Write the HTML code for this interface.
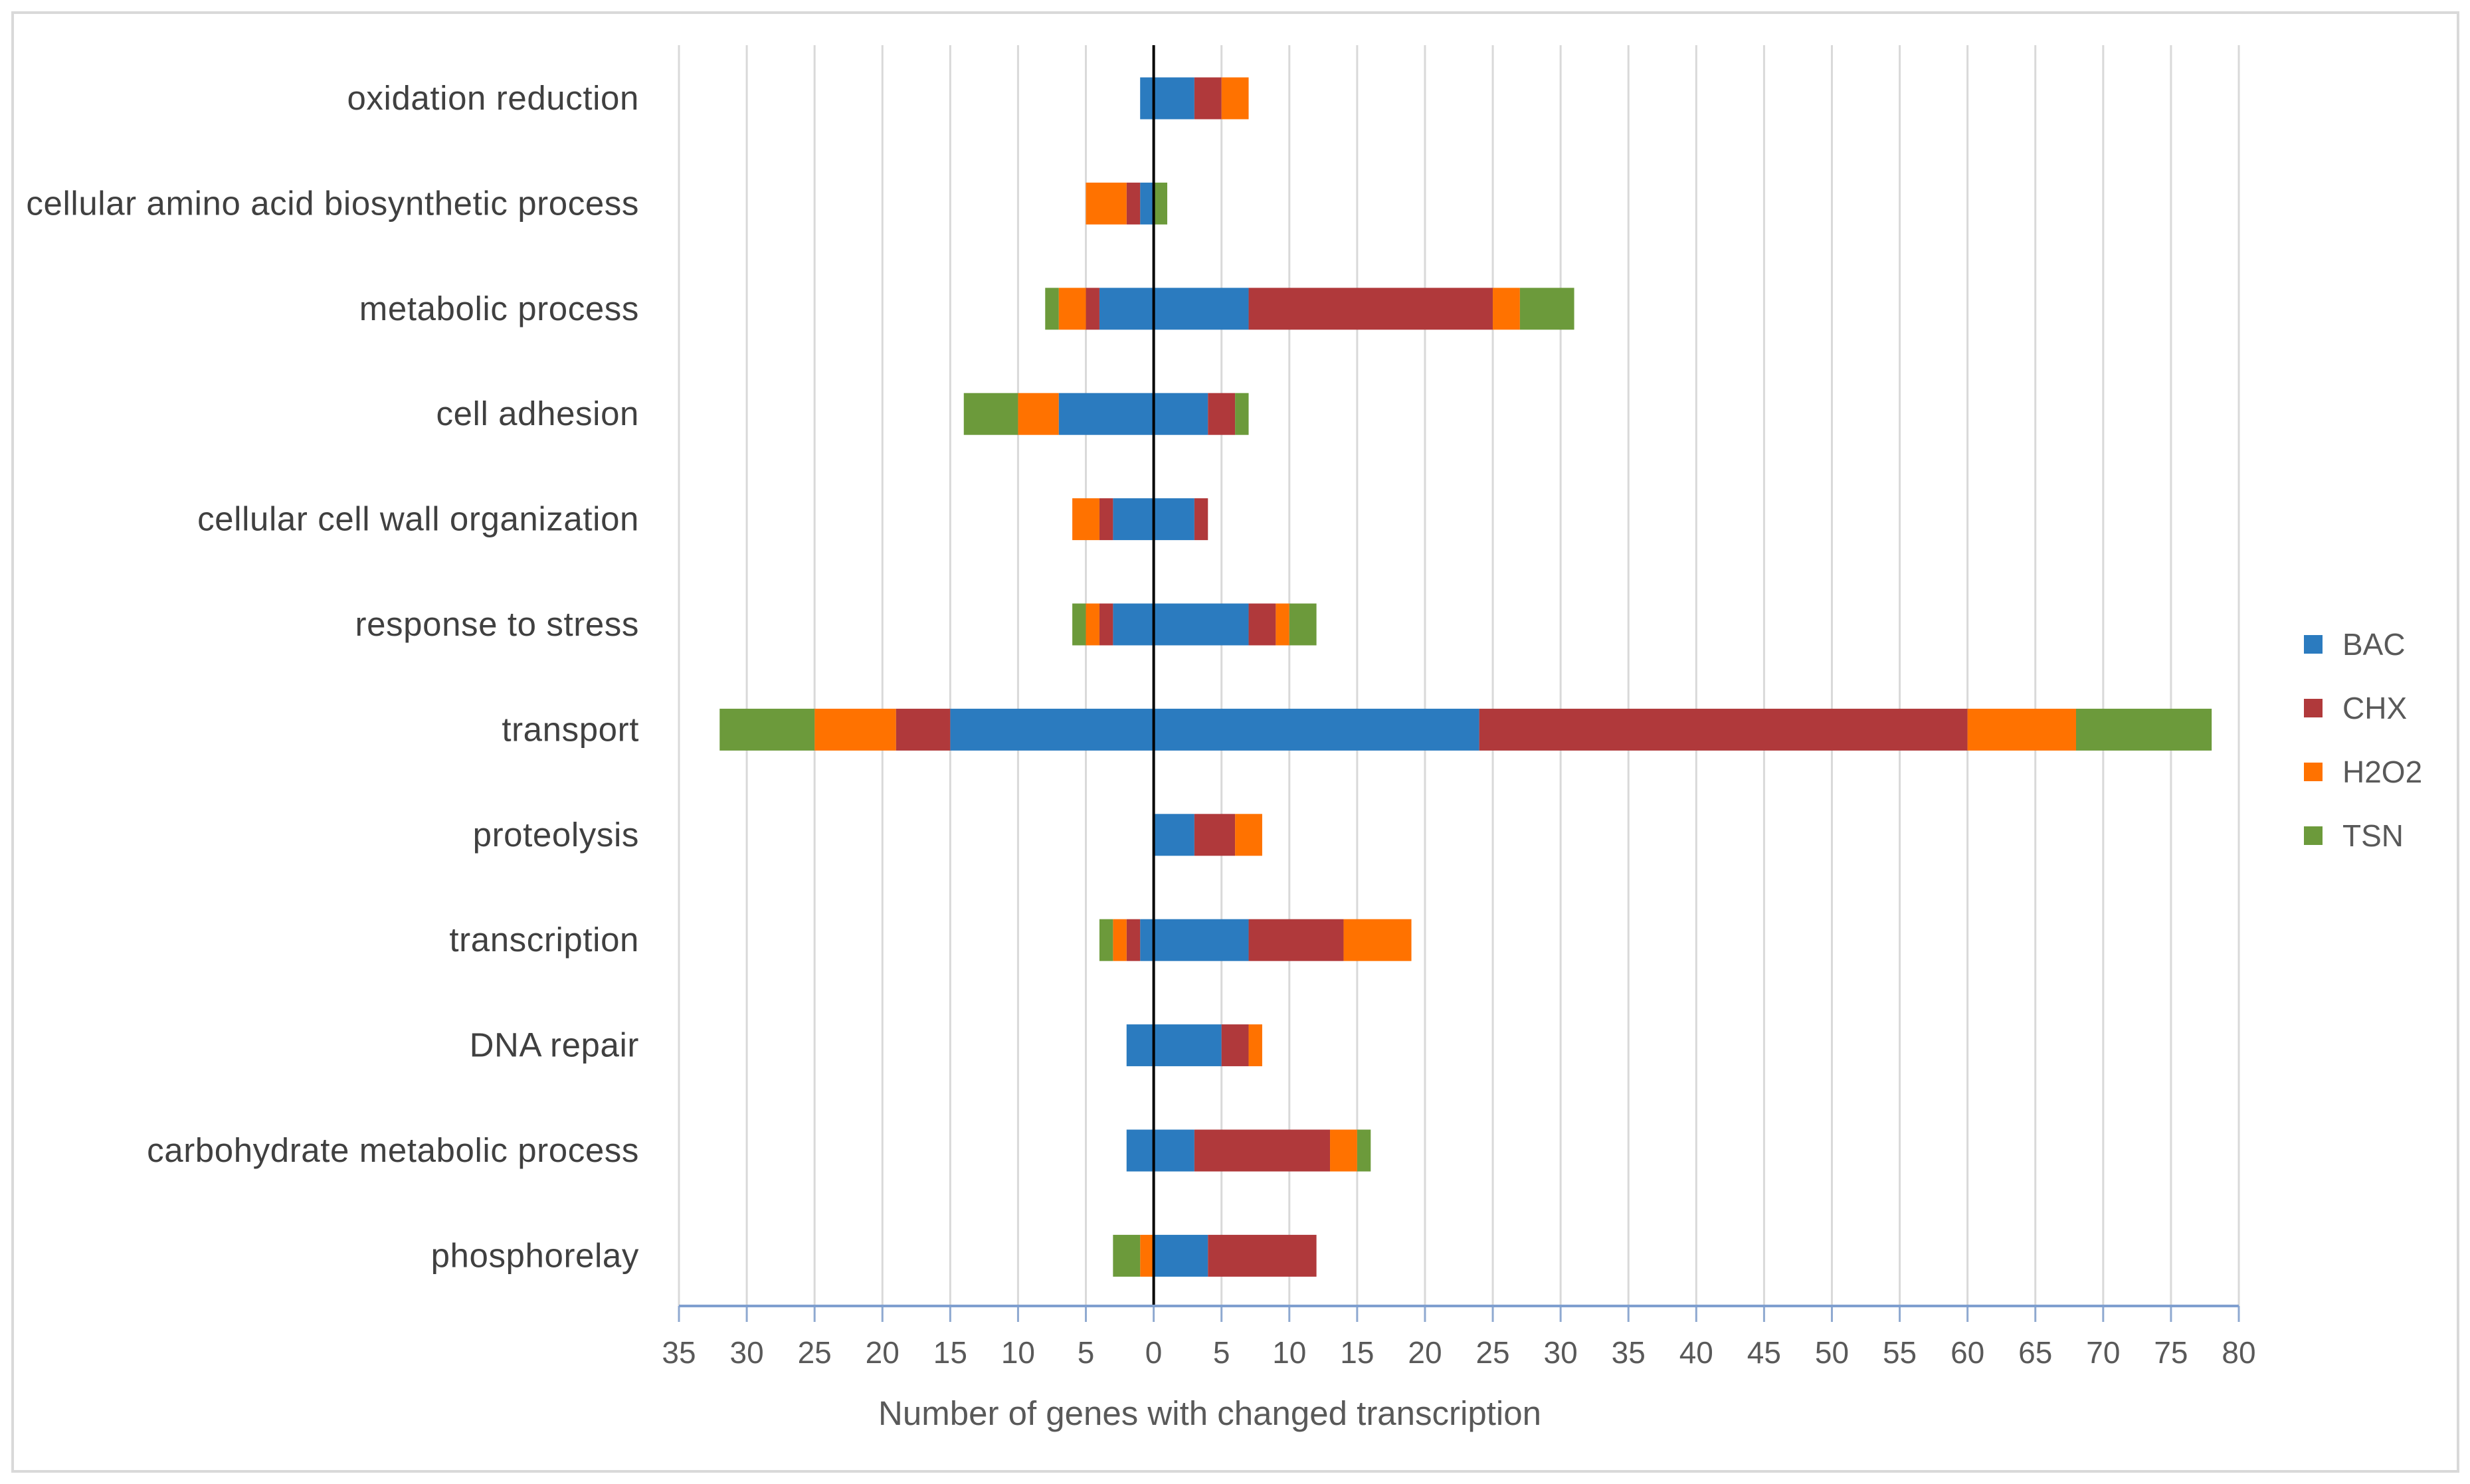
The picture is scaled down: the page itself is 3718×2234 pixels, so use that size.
<!DOCTYPE html>
<html><head><meta charset="utf-8"><style>
html,body{margin:0;padding:0;background:#fff}
svg{display:block;font-family:"Liberation Sans",sans-serif}
</style></head><body>
<svg id="chart" width="3718" height="2234" viewBox="0 0 3718 2234">
<rect x="19" y="19" width="3681" height="2196" fill="#fff" stroke="#d9d9d9" stroke-width="4"/>
<g id="grid"></g><g id="bars"></g><g id="axis"></g><g id="labels"></g><g id="legend"></g>
</svg>
<script>
const categories=["oxidation reduction","cellular amino acid biosynthetic process","metabolic process","cell adhesion","cellular cell wall organization","response to stress","transport","proteolysis","transcription","DNA repair","carbohydrate metabolic process","phosphorelay"];
const series=["BAC","CHX","H2O2","TSN"];
const colors=["#2b7bbf","#b0393b","#ff7200","#6c9a3b"];
const bacPos=[3,0,7,4,3,7,24,3,7,5,3,4];
const chxPos=[2,0,18,2,1,2,36,3,7,2,10,8];
const h2o2Pos=[2,0,2,0,0,1,8,2,5,1,2,0];
const tsnPos=[0,1,4,1,0,2,10,0,0,0,1,0];
const bacNeg=[1,1,4,7,3,3,15,0,1,2,2,0];
const chxNeg=[0,1,1,0,1,1,4,0,1,0,0,0];
const h2o2Neg=[0,3,2,3,2,1,6,0,1,0,0,1];
const tsnNeg=[0,0,1,4,0,1,7,0,1,0,0,2];
const ticks=[-35,-30,-25,-20,-15,-10,-5,0,5,10,15,20,25,30,35,40,45,50,55,60,65,70,75,80];
const tickLabels=["35","30","25","20","15","10","5","0","5","10","15","20","25","30","35","40","45","50","55","60","65","70","75","80"];

const NS="http://www.w3.org/2000/svg";
const X0=1022,X1=3370,VMIN=-35,VMAX=80;
const xs=v=>X0+(v-VMIN)*(X1-X0)/(VMAX-VMIN);
const TOP=68,AXY=1966,R0=148,RS=158.4,BH=63;
const ys=i=>R0+i*RS;
function mk(tag,attrs,parent){const e=document.createElementNS(NS,tag);for(const k in attrs)e.setAttribute(k,attrs[k]);parent.appendChild(e);return e;}
const grid=document.getElementById('grid'),bars=document.getElementById('bars'),axis=document.getElementById('axis'),labels=document.getElementById('labels'),legend=document.getElementById('legend');
ticks.forEach((t,i)=>{
  if(t!==0){const g=mk('line',{x1:xs(t),x2:xs(t),y1:TOP,y2:AXY,stroke:'#d9d9d9','stroke-width':3},grid);
  
  }
  const tk=mk('line',{x1:xs(t),x2:xs(t),y1:AXY,y2:AXY+24,stroke:'#8fa9d0','stroke-width':3},axis);
  
  
  const tl=mk('text',{x:xs(t),y:AXY+86,'text-anchor':'middle','font-size':46,fill:'#595959'},axis);
  tl.textContent=tickLabels[i];
  
  
});
const pos=[bacPos,chxPos,h2o2Pos,tsnPos],neg=[bacNeg,chxNeg,h2o2Neg,tsnNeg];
categories.forEach((c,i)=>{
  let p=0,n=0;
  for(let s=0;s<4;s++){
    if(pos[s][i]>0){const r=mk('rect',{x:xs(p),y:ys(i)-BH/2,width:xs(p+pos[s][i])-xs(p),height:BH,fill:colors[s]},bars);
      
      p+=pos[s][i];}
    if(neg[s][i]>0){const r=mk('rect',{x:xs(n-neg[s][i]),y:ys(i)-BH/2,width:xs(n)-xs(n-neg[s][i]),height:BH,fill:colors[s]},bars);
      
      n-=neg[s][i];}
  }
  const t=mk('text',{x:962,y:ys(i)+17,'text-anchor':'end','font-size':51,'letter-spacing':0.6,fill:'#404040'},labels);
  t.textContent=c;
  
  
});
const zl=mk('line',{x1:xs(0),x2:xs(0),y1:TOP,y2:AXY,stroke:'#000','stroke-width':4},axis);


const al=mk('line',{x1:X0,x2:X1,y1:AXY,y2:AXY,stroke:'#7f9fcf','stroke-width':4},axis);


const at=mk('text',{x:1821,y:2145,'text-anchor':'middle','font-size':51,fill:'#595959'},axis);
at.textContent='Number of genes with changed transcription';


series.forEach((s,i)=>{
  const y=970+i*96;
  const r=mk('rect',{x:3468,y:y-14,width:28,height:28,fill:colors[i]},legend);
  
  
  const t=mk('text',{x:3526,y:y+16,'font-size':46,fill:'#595959'},legend);
  t.textContent=s;
  
  
});
</script>
</body></html>
